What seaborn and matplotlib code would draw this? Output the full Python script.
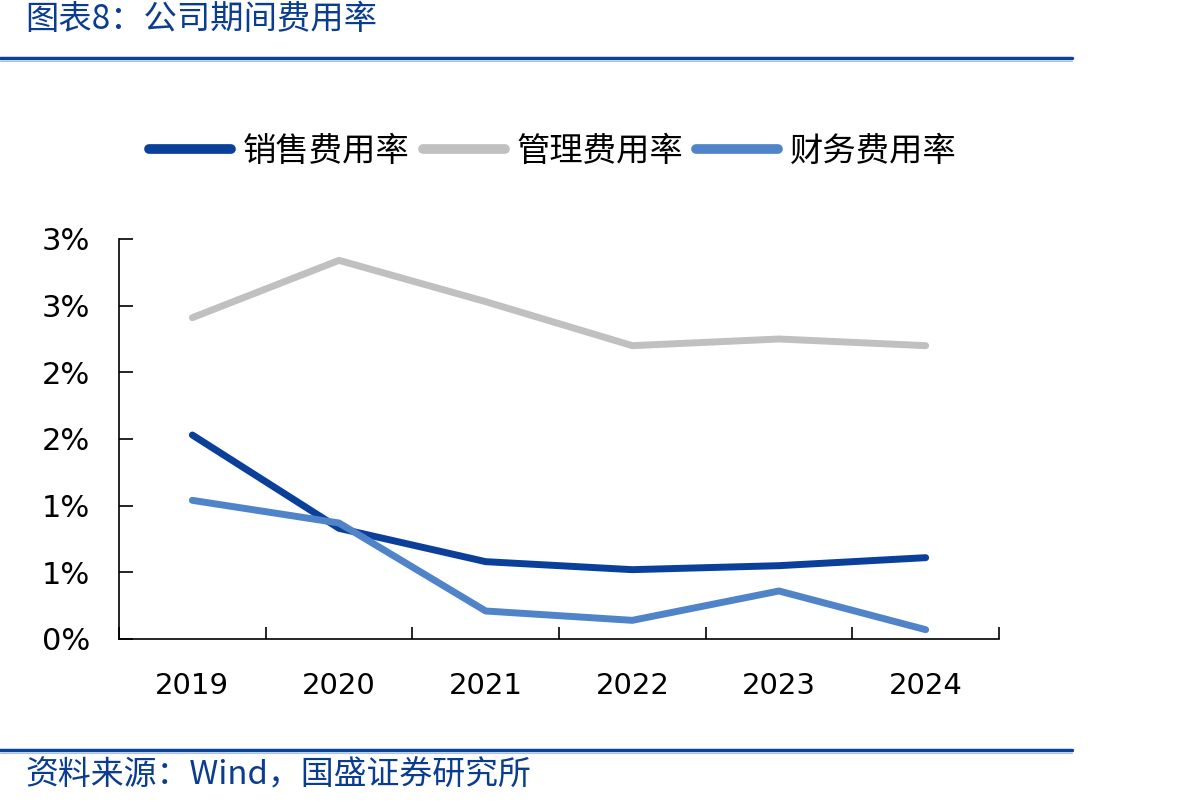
import math
import pandas as pd
import numpy as np
import matplotlib
matplotlib.use('Agg')
import matplotlib.pyplot as plt
import seaborn as sns
from matplotlib.ticker import FixedLocator, FuncFormatter
from matplotlib.lines import Line2D

years = ['2019', '2020', '2021', '2022', '2023', '2024']
sales_rate = [1.53, 0.83, 0.58, 0.52, 0.55, 0.61]
admin_rate = [2.41, 2.84, 2.53, 2.20, 2.25, 2.20]
finance_rate = [1.04, 0.87, 0.21, 0.14, 0.36, 0.07]
series_names = ['销售费用率', '管理费用率', '财务费用率']
colors = ['#0A3F9A', '#C0C0C0', '#4F84C8']

df = pd.DataFrame({'year': years, series_names[0]: sales_rate,
                   series_names[1]: admin_rate, series_names[2]: finance_rate})
long_df = df.melt(id_vars='year', var_name='series', value_name='rate')
long_df['pos'] = long_df['year'].map({y: i for i, y in enumerate(years)})

sns.set_style('white')
plt.rcParams['font.family'] = ['Noto Sans CJK SC', 'DejaVu Sans']

fig = plt.figure(figsize=(11.92, 8.06), dpi=100)
ax = fig.add_axes([119 / 1192, 1 - 639 / 806, 880 / 1192, 400 / 806])

sns.lineplot(data=long_df, x='pos', y='rate', hue='series', hue_order=series_names,
             palette=colors, linewidth=5, ax=ax, legend=False,
             solid_capstyle='round', solid_joinstyle='round')

ax.set_xlim(-0.5, 5.5)
ax.set_ylim(0, 3.0)
ax.set_xlabel('')
ax.set_ylabel('')

# ticks between categories, labels centered
ax.xaxis.set_major_locator(FixedLocator(np.arange(-0.5, 6, 1)))
ax.xaxis.set_major_formatter(FuncFormatter(lambda v, p: ''))
ax.xaxis.set_minor_locator(FixedLocator(np.arange(len(years))))
ax.xaxis.set_minor_formatter(FuncFormatter(lambda v, p: years[int(round(v))]))
ax.tick_params(axis='x', which='major', bottom=True, direction='in', length=9, width=1.2,
               color='black')
ax.tick_params(axis='x', which='minor', bottom=True, length=0, pad=24, labelsize=21,
               labelcolor='black')
for lab in ax.get_xticklabels(minor=True):
    lab.set_family('DejaVu Sans')

ax.yaxis.set_major_locator(FixedLocator(np.arange(0, 3.01, 0.5)))
ax.yaxis.set_major_formatter(FuncFormatter(lambda v, p: f"{int(math.floor(v + 0.5))}%"))
ax.tick_params(axis='y', left=True, direction='in', length=10, width=1.2, color='black',
               pad=21, labelsize=22, labelcolor='black')
for lab in ax.get_yticklabels():
    lab.set_family('DejaVu Sans')

for side in ['top', 'right']:
    ax.spines[side].set_visible(False)
for side in ['left', 'bottom']:
    ax.spines[side].set_color('black')
    ax.spines[side].set_linewidth(1.2)

handles = [Line2D([0], [0], color=c, lw=7, solid_capstyle='round') for c in colors]
fig.legend(handles, series_names, loc='center', bbox_to_anchor=(553 / 1192, 1 - 151 / 806),
           ncol=3, frameon=False, fontsize=24, handlelength=2.45, handletextpad=0.35,
           columnspacing=0.4, labelcolor='black')

# header and footer
title_color = '#0A3C8F'
fig.text(25 / 1192, 1 - 20 / 806, '图表8：公司期间费用率', fontsize=24, color=title_color,
         va='center', ha='left', style='italic')
fig.add_artist(Line2D([0, 1072 / 1192], [1 - 58 / 806] * 2, color='#0A4199', lw=2.5))
fig.add_artist(Line2D([0, 1072 / 1192], [1 - 61 / 806] * 2, color='#A9C1E6', lw=0.8))
fig.add_artist(Line2D([0, 1072 / 1192], [1 - 750 / 806] * 2, color='#0A4199', lw=2.5))
fig.add_artist(Line2D([0, 1072 / 1192], [1 - 753 / 806] * 2, color='#A9C1E6', lw=0.8))
fig.text(25 / 1192, 1 - 775 / 806, '资料来源：Wind，国盛证券研究所', fontsize=23.7, color=title_color,
         va='center', ha='left', style='italic')

fig.savefig('out.png', dpi=100)
